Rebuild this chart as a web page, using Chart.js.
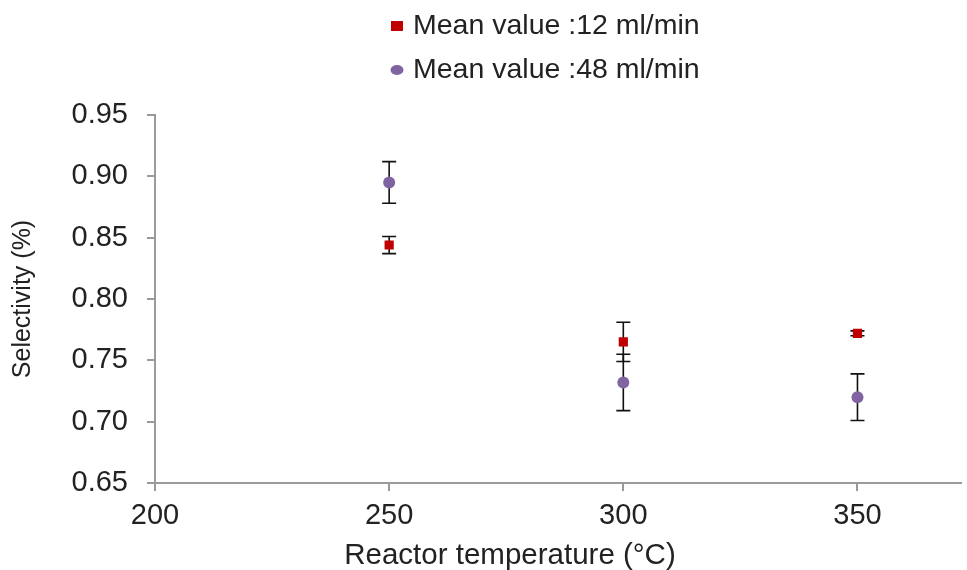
<!DOCTYPE html>
<html>
<head>
<meta charset="utf-8">
<script src="https://cdn.jsdelivr.net/npm/chart.js@4.4.1/dist/chart.umd.min.js"></script>
<style>
  html, body { margin: 0; padding: 0; background: #ffffff; }
  #wrap { width: 967px; height: 570px; position: relative; }
</style>
</head>
<body>
<div id="wrap"><canvas id="c"></canvas></div>
<script>
// ---- data ----
const temperatures = [250, 300, 350];
const mean12 = [0.844, 0.765, 0.772];
const err12 = [0.007, 0.016, 0.002];
const mean48 = [0.895, 0.732, 0.720];
const err48 = [0.017, 0.023, 0.019];
const seriesLabels = ['Mean value :12 ml/min', 'Mean value :48 ml/min'];
const xTitle = 'Reactor temperature (\u00B0C)';
const yTitle = 'Selectivity (%)';
const xTickValues = [200, 250, 300, 350];
const yTickValues = [0.65, 0.70, 0.75, 0.80, 0.85, 0.90, 0.95];

const RED = '#C00000';
const PURPLE = '#8064A2';
const AXIS = '#9a9a9a';
const TEXT = '#222222';
const FONT = "'Liberation Sans', Arial, sans-serif";

function toPoints(xs, ys, es) {
  return xs.map((x, i) => ({ x: x, y: ys[i], e: es[i] }));
}

const errorBars = {
  id: 'errorBars',
  beforeDatasetsDraw(chart) {
    const ctx = chart.ctx;
    const ys = chart.scales.y;
    const xs = chart.scales.x;
    ctx.save();
    ctx.strokeStyle = '#111111';
    ctx.lineWidth = 1.6;
    chart.data.datasets.forEach(ds => {
      ds.data.forEach(p => {
        const px = xs.getPixelForValue(p.x);
        const top = ys.getPixelForValue(p.y + p.e);
        const bot = ys.getPixelForValue(p.y - p.e);
        const cap = 7;
        ctx.beginPath();
        ctx.moveTo(px, top); ctx.lineTo(px, bot);
        ctx.moveTo(px - cap, top); ctx.lineTo(px + cap, top);
        ctx.moveTo(px - cap, bot); ctx.lineTo(px + cap, bot);
        ctx.stroke();
      });
    });
    ctx.restore();
  }
};

const customText = {
  id: 'customText',
  afterDraw(chart) {
    const ctx = chart.ctx;
    ctx.save();
    // legend
    ctx.font = '28.5px ' + FONT;
    ctx.textBaseline = 'middle';
    ctx.textAlign = 'left';
    const rows = [26, 70];
    chart.data.datasets.forEach((ds, i) => {
      const y = rows[i];
      ctx.fillStyle = ds.backgroundColor;
      if (ds.pointStyle === 'rect') {
        ctx.fillRect(391, y - 5, 12, 10);
      } else {
        ctx.beginPath();
        ctx.ellipse(397, y, 6.5, 5, 0, 0, Math.PI * 2);
        ctx.fill();
      }
      ctx.fillStyle = TEXT;
      ctx.fillText(ds.label, 413, y);
    });
    // x axis title
    ctx.font = '29.5px ' + FONT;
    ctx.textAlign = 'center';
    ctx.fillStyle = TEXT;
    ctx.fillText(xTitle, 510, 556);
    ctx.restore();
  }
};

new Chart(document.getElementById('c'), {
  type: 'scatter',
  data: {
    datasets: [
      {
        label: seriesLabels[0],
        data: toPoints(temperatures, mean12, err12),
        backgroundColor: RED,
        borderColor: RED,
        pointStyle: 'rect',
        pointRadius: 6.5,
        borderWidth: 0
      },
      {
        label: seriesLabels[1],
        data: toPoints(temperatures, mean48, err48),
        backgroundColor: PURPLE,
        borderColor: PURPLE,
        pointStyle: 'circle',
        pointRadius: 6,
        borderWidth: 0
      }
    ]
  },
  options: {
    responsive: true,
    maintainAspectRatio: false,
    animation: false,
    layout: { padding: { top: 115, right: 0, bottom: 0, left: 0 } },
    plugins: {
      legend: { display: false },
      tooltip: { enabled: false }
    },
    scales: {
      x: {
        type: 'linear',
        min: 200,
        max: 372,
        afterBuildTicks: s => { s.ticks = xTickValues.map(v => ({ value: v })); },
        afterFit: s => { s.height = 87; },
        grid: { drawOnChartArea: false, drawTicks: true, tickLength: 8, color: AXIS, lineWidth: 2 },
        border: { color: AXIS, width: 2 },
        ticks: { color: TEXT, font: { family: FONT, size: 29, lineHeight: 1.0 }, padding: 10, maxRotation: 0,
                 callback: v => String(v) },
        title: { display: false }
      },
      y: {
        type: 'linear',
        min: 0.65,
        max: 0.95,
        afterBuildTicks: s => { s.ticks = yTickValues.map(v => ({ value: v })); },
        afterFit: s => { s.width = 155; },
        grid: { drawOnChartArea: false, drawTicks: true, tickLength: 8, color: AXIS, lineWidth: 2 },
        border: { color: AXIS, width: 2 },
        ticks: { color: TEXT, font: { family: FONT, size: 29 }, padding: 19,
                 callback: v => Number(v).toFixed(2) },
        title: { display: true, text: yTitle, color: TEXT,
                 font: { family: FONT, size: 25 }, padding: { top: 8, bottom: 0 } }
      }
    }
  },
  plugins: [errorBars, customText]
});
</script>
</body>
</html>
